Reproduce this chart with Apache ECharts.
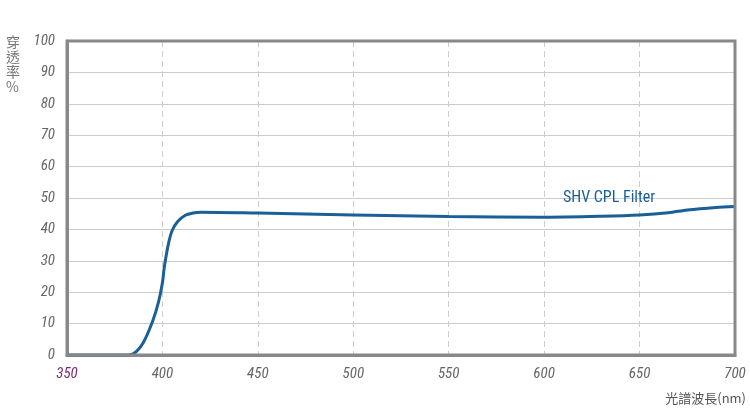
<!DOCTYPE html>
<html><head><meta charset="utf-8">
<script src="https://cdn.jsdelivr.net/npm/echarts@6/dist/echarts.min.js"></script>
<style>html,body{margin:0;padding:0;background:#fff}#c{width:750px;height:414px}</style>
</head><body><div id="c"></div>
<script>
// 波长 / 透过率
var wavelengths = [350, 370, 380, 385, 390, 395, 398, 400, 401, 403, 405, 408, 412, 416, 420, 450, 500, 550, 600, 630, 650, 665, 675, 690, 700];
var transmission = [0, 0, 0, 0.5, 4, 11, 17, 23, 28, 35, 39.5, 42.5, 44.5, 45.2, 45.5, 45.2, 44.6, 44.1, 43.9, 44.2, 44.6, 45.3, 46.2, 47.0, 47.3];
var seriesName = 'SHV CPL Filter';

var points = wavelengths.map(function (w, i) { return [w, transmission[i]]; });
var chart = echarts.init(document.getElementById('c'));
var tickFont = { fontFamily: 'Roboto Condensed, Liberation Sans Narrow, Roboto', fontStyle: 'italic', color: '#666', fontSize: 15 };
chart.setOption({
	animation: false,
	grid: { left: 67, right: 15, top: 41, bottom: 59 },
	graphic: [{
		type: 'text', left: 6, top: 34,
		style: { text: '穿\n透\n率\n%', fill: '#777', font: '14px "Noto Sans CJK TC"', lineHeight: 15 }
	}, {
		type: 'text', right: 4, top: 392,
		style: { text: '光譜波長(nm)', fill: '#555', font: '13px "Noto Sans CJK TC"' }
	}, {
		type: 'rect', shape: { x: 67, y: 41, width: 668, height: 314 },
		style: { fill: 'none', stroke: '#888', lineWidth: 3 }, z: 10
	}],
	xAxis: {
		type: 'value', min: 350, max: 700, interval: 50,
		axisLine: { show: true, lineStyle: { color: '#888', width: 3 } },
		axisTick: { show: false },
		axisLabel: Object.assign({ margin: 12 }, tickFont, {
			color: function (v) { return v == 350 ? '#7a2a7a' : '#666'; } }),
		splitLine: { show: true, lineStyle: { color: '#ccc', type: [6, 4] } }
	},
	yAxis: {
		type: 'value', min: 0, max: 100, interval: 10,
		axisLine: { show: true, lineStyle: { color: '#888', width: 3 } },
		axisTick: { show: false },
		axisLabel: Object.assign({ margin: 12 }, tickFont),
		splitLine: { show: true, lineStyle: { color: '#ccc' } }
	},
	series: [{
		name: seriesName, type: 'line', data: points, smooth: 0.3, symbol: 'none',
		lineStyle: { color: '#1a5f96', width: 3 },
		markPoint: {
			symbol: 'circle', symbolSize: 0,
			label: { show: true, formatter: seriesName, color: '#1a5f96', fontSize: 16, fontFamily: 'Roboto Condensed, Liberation Sans Narrow, Roboto' },
			data: [{ coord: [634, 50] }]
		}
	}]
});
</script></body></html>
